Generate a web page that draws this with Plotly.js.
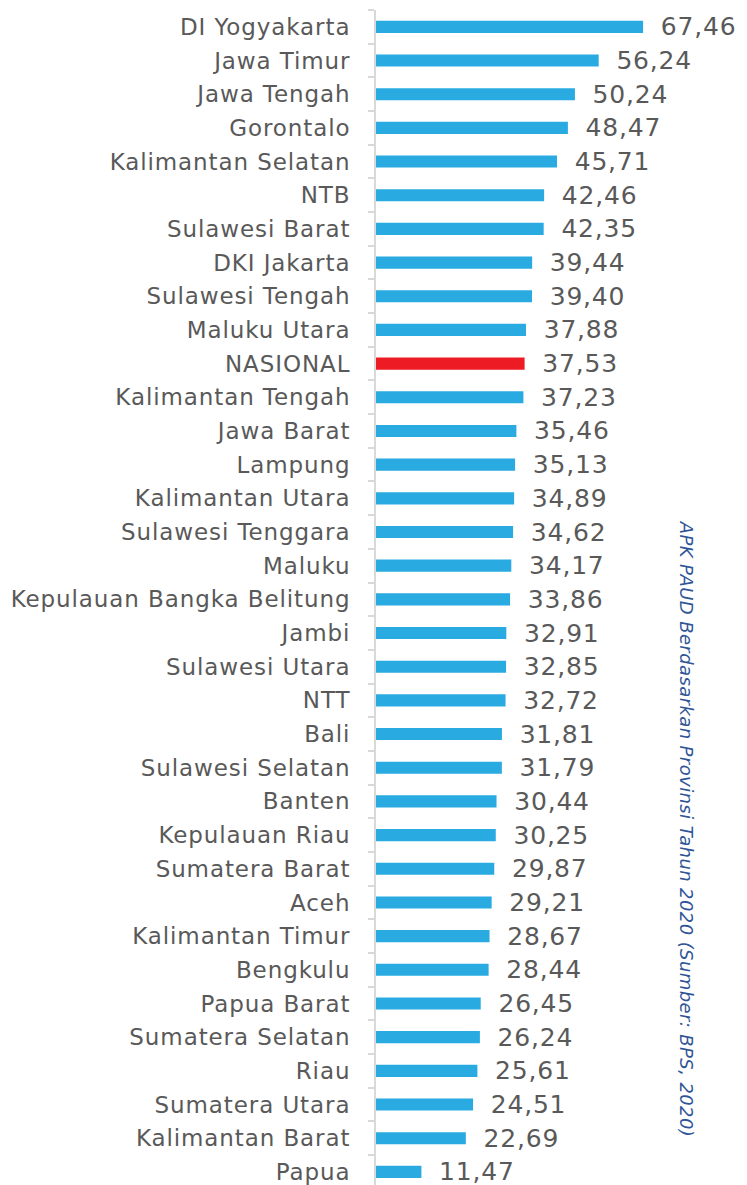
<!DOCTYPE html>
<html><head><meta charset="utf-8">
<script src="https://cdn.plot.ly/plotly-3.0.1.min.js"></script>
<style>
html,body{margin:0;padding:0;background:#fff;}
#chart{width:747px;height:1185px;}
#chart g.ytick text{letter-spacing:0.9px;}
#chart g.point text{letter-spacing:0.8px;}
#chart .annotation-text{letter-spacing:0.4px;}
</style>
</head><body><div id="chart"></div>
<script>
const provinces = ["DI Yogyakarta","Jawa Timur","Jawa Tengah","Gorontalo","Kalimantan Selatan","NTB","Sulawesi Barat","DKI Jakarta","Sulawesi Tengah","Maluku Utara","NASIONAL","Kalimantan Tengah","Jawa Barat","Lampung","Kalimantan Utara","Sulawesi Tenggara","Maluku","Kepulauan Bangka Belitung","Jambi","Sulawesi Utara","NTT","Bali","Sulawesi Selatan","Banten","Kepulauan Riau","Sumatera Barat","Aceh","Kalimantan Timur","Bengkulu","Papua Barat","Sumatera Selatan","Riau","Sumatera Utara","Kalimantan Barat","Papua"];
const apkValues = [67.46,56.24,50.24,48.47,45.71,42.46,42.35,39.44,39.40,37.88,37.53,37.23,35.46,35.13,34.89,34.62,34.17,33.86,32.91,32.85,32.72,31.81,31.79,30.44,30.25,29.87,29.21,28.67,28.44,26.45,26.24,25.61,24.51,22.69,11.47];
const highlight = "NASIONAL";
const sideTitle = "APK PAUD Berdasarkan Provinsi Tahun 2020 (Sumber: BPS, 2020)";

const colors = provinces.map(p => p === highlight ? "#ED1C24" : "#29ABE2");
const FONT = "'DejaVu Sans', sans-serif";

const trace = {
  type: "bar", orientation: "h",
  x: apkValues, y: provinces,
  marker: {color: colors},
  width: 0.36,
  texttemplate: "\u00a0\u00a0%{x:.2f}",
  textposition: "outside",
  constraintext: "none",
  cliponaxis: false,
  textfont: {family: FONT, size: 25, color: "#595959"},
  hoverinfo: "skip"
};

const layout = {
  width: 747, height: 1185,
  margin: {l: 376, r: 0, t: 10, b: 0, pad: 0},
  paper_bgcolor: "#fff", plot_bgcolor: "#fff",
  separators: ",.",
  showlegend: false,
  xaxis: {range: [0, 93.7], visible: false, fixedrange: true},
  yaxis: {
    type: "category",
    categoryorder: "array", categoryarray: provinces,
    range: [34.39, -0.5],
    showline: true, linecolor: "#d9d9d9", linewidth: 2,
    ticks: "outside", tickson: "boundaries", ticklen: 6, tickcolor: "#d9d9d9", tickwidth: 2,
    ticklabelstandoff: 19,
    showgrid: false, zeroline: false,
    tickfont: {family: FONT, size: 23, color: "#595959"},
    fixedrange: true
  },
  annotations: [{
    text: sideTitle, xref: "paper", yref: "paper",
    x: 0.836, y: 0.303, xanchor: "center", yanchor: "middle",
    textangle: 90, showarrow: false,
    font: {family: FONT, size: 18, color: "#2F5597", style: "italic"}
  }]
};
Plotly.newPlot("chart", [trace], layout, {displayModeBar: false, staticPlot: true});
</script></body></html>
